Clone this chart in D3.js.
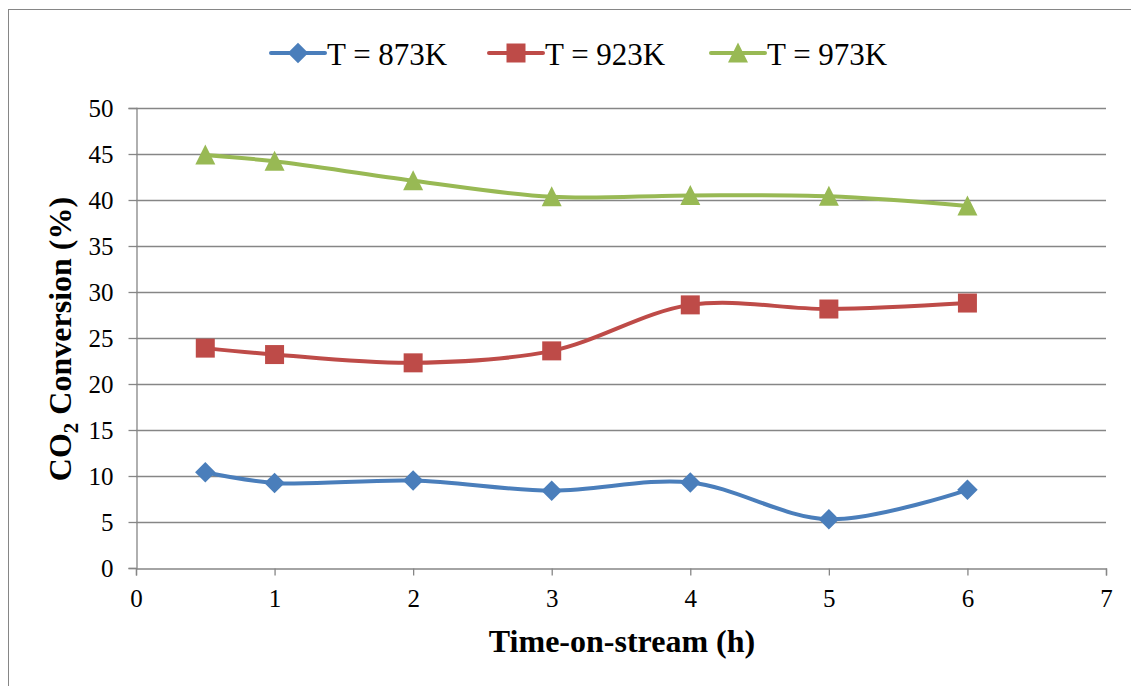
<!DOCTYPE html>
<html><head><meta charset="utf-8">
<script src="https://cdn.jsdelivr.net/npm/d3@7"></script>
<style>body{margin:0;background:#fff}svg{display:block}text{font-family:"Liberation Serif","Times New Roman",serif}</style>
</head><body>
<svg id="c" width="1131" height="686"></svg>
<script>
const times = [0.5, 1, 2, 3, 4, 5, 6];
const seriesNames = ["T = 873K", "T = 923K", "T = 973K"];
const t873 = [10.4, 9.25, 9.5, 8.4, 9.3, 5.3, 8.5];
const t923 = [23.9, 23.2, 22.3, 23.6, 28.6, 28.15, 28.8];
const t973 = [44.9, 44.2, 42.1, 40.35, 40.5, 40.4, 39.35];
const xTicks = [0, 1, 2, 3, 4, 5, 6, 7];
const yTicks = [0, 5, 10, 15, 20, 25, 30, 35, 40, 45, 50];
const colors = ["#4a7ebb", "#be4b48", "#98b954"];

const diamond = { draw(ctx, size) { const r = Math.sqrt(size) / 2; ctx.moveTo(0, -r); ctx.lineTo(r, 0); ctx.lineTo(0, r); ctx.lineTo(-r, 0); ctx.closePath(); } };
const square = { draw(ctx, size) { const r = Math.sqrt(size) / 2; ctx.rect(-r, -r, 2 * r, 2 * r); } };
const triangle = { draw(ctx, size) { const r = Math.sqrt(size) / 2; ctx.moveTo(0, -r * 1.05); ctx.lineTo(r, r * 0.95); ctx.lineTo(-r, r * 0.95); ctx.closePath(); } };
const symbols = [diamond, square, triangle];
const sizes = [420, 361, 400];

const svg = d3.select("#c");
svg.append("rect").attr("x", 8.5).attr("y", 9.5).attr("width", 1140).attr("height", 700)
  .attr("fill", "#fff").attr("stroke", "#868686").attr("stroke-width", 1);

const x = d3.scaleLinear().domain([0, 7]).range([136, 1106]);
const y = d3.scaleLinear().domain([0, 50]).range([568, 108]);

svg.append("g").selectAll("line").data(yTicks.filter(d => d > 0)).join("line")
  .attr("x1", x(0)).attr("x2", x(7)).attr("y1", d => y(d) + 0.5).attr("y2", d => y(d) + 0.5)
  .attr("stroke", "#868686").attr("stroke-width", 1.3);

const yAxis = svg.append("g").attr("transform", `translate(${x(0) + 0.5},0)`)
  .call(d3.axisLeft(y).tickValues(yTicks).tickFormat(d3.format("d")).tickSize(8).tickPadding(15));
const xAxis = svg.append("g").attr("transform", `translate(0,${y(0) + 0.5})`)
  .call(d3.axisBottom(x).tickValues(xTicks).tickFormat(d3.format("d")).tickSize(7).tickPadding(14));
[yAxis, xAxis].forEach(g => {
  g.attr("font-family", null);
  g.select(".domain").attr("stroke", "#868686").attr("stroke-width", 1.3);
  g.selectAll(".tick line").attr("stroke", "#868686").attr("stroke-width", 1.3);
  g.selectAll("text").attr("font-size", 25).attr("fill", "#000");
});

const data = [t873, t923, t973];
const line = d3.line().x((d, i) => x(times[i])).y(d => y(d)).curve(d3.curveCatmullRom.alpha(0.5));
data.forEach((s, k) => {
  svg.append("path").datum(s).attr("d", line).attr("fill", "none")
    .attr("stroke", colors[k]).attr("stroke-width", 4).attr("stroke-linecap", "round");
});
data.forEach((s, k) => {
  svg.append("g").selectAll("path").data(s).join("path")
    .attr("d", d3.symbol().type(symbols[k]).size(sizes[k]))
    .attr("transform", (d, i) => `translate(${x(times[i])},${y(d)})`)
    .attr("fill", colors[k]);
});

const legX = [271, 489, 711];
seriesNames.forEach((n, k) => {
  const g = svg.append("g").attr("transform", `translate(${legX[k]},53)`);
  g.append("line").attr("x1", 0).attr("x2", 54).attr("stroke", colors[k]).attr("stroke-width", 4).attr("stroke-linecap", "round");
  g.append("path").attr("d", d3.symbol().type(symbols[k]).size(sizes[k])).attr("transform", "translate(27,0)").attr("fill", colors[k]);
  g.append("text").attr("x", 56).attr("y", 12).text(n).attr("font-size", 31).attr("fill", "#000");
});

svg.append("text").attr("x", 622).attr("y", 652).attr("text-anchor", "middle")
  .attr("font-size", 32).attr("font-weight", "bold").text("Time-on-stream (h)");
const yt = svg.append("text").attr("transform", "translate(71,339) rotate(-90)").attr("text-anchor", "middle")
  .attr("font-size", 32).attr("font-weight", "bold");
yt.append("tspan").text("CO");
yt.append("tspan").attr("font-size", 21).attr("dy", 7).text("2");
yt.append("tspan").attr("dy", -7).text(" Conversion (%)");
</script>
</body></html>
